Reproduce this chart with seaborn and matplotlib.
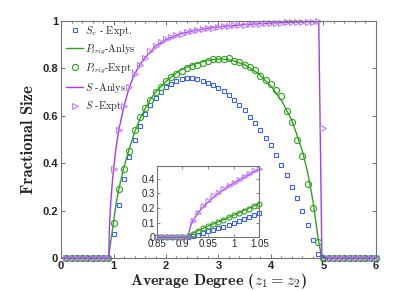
import numpy as np
import matplotlib
matplotlib.use("Agg")
import matplotlib.pyplot as plt
from matplotlib.ticker import MultipleLocator
import seaborn as sns

# experiments, z = 0.1 ... 6.0
z_expt = np.round(np.arange(1, 61) * 0.1, 1)
sv_expt = [0, 0, 0, 0, 0, 0, 0, 0, 0,
           0.10, 0.225, 0.335, 0.428, 0.498, 0.558, 0.606, 0.646, 0.676, 0.702,
           0.723, 0.735, 0.747, 0.754, 0.758, 0.760, 0.754, 0.748, 0.740, 0.729,
           0.716, 0.705, 0.688, 0.665, 0.646, 0.623, 0.596, 0.568, 0.539, 0.508,
           0.477, 0.435, 0.392, 0.349, 0.301, 0.252, 0.197, 0.141, 0.075, 0.016,
           0, 0, 0, 0, 0, 0, 0, 0, 0, 0, 0]
ptrig_expt = [0, 0, 0, 0, 0, 0, 0, 0, 0,
              0.15, 0.292, 0.375, 0.452, 0.540, 0.595, 0.632, 0.668, 0.700, 0.722,
              0.745, 0.762, 0.778, 0.790, 0.800, 0.811, 0.814, 0.824, 0.833, 0.838,
              0.840, 0.840, 0.843, 0.833, 0.828, 0.814, 0.805, 0.793, 0.769, 0.750,
              0.734, 0.709, 0.684, 0.622, 0.575, 0.499, 0.432, 0.311, 0.212, 0.068,
              0, 0, 0, 0, 0, 0, 0, 0, 0, 0, 0]
s_expt = [0, 0, 0, 0, 0, 0, 0, 0, 0,
          0.375, 0.54, 0.64, 0.72, 0.775, 0.815, 0.845, 0.872, 0.893, 0.91,
          0.922, 0.933, 0.94, 0.947, 0.953, 0.958, 0.962, 0.966, 0.969, 0.972,
          0.975, 0.977, 0.979, 0.981, 0.983, 0.985, 0.986, 0.988, 0.989, 0.990,
          0.991, 0.992, 0.993, 0.994, 0.995, 0.995, 0.996, 0.997, 0.997, 0.998,
          0.55, 0, 0, 0, 0, 0, 0, 0, 0, 0, 0]

# analysis curves
z_s = [0, 0.911, 0.915, 0.92, 0.93, 0.94, 0.95, 0.96, 0.97, 0.98, 0.99, 1.0,
       1.01, 1.02, 1.03, 1.04, 1.05, 1.1, 1.2, 1.3, 1.4, 1.5, 1.6, 1.8, 2.0,
       2.25, 2.5, 2.75, 3.0, 3.5, 4.0, 4.5, 4.91, 4.97, 6.0]
s_anlys = [0, 0, 0.07, 0.11, 0.165, 0.205, 0.24, 0.27, 0.30, 0.325, 0.35, 0.37,
           0.39, 0.41, 0.43, 0.45, 0.466, 0.54, 0.64, 0.72, 0.775, 0.815, 0.845, 0.893, 0.922,
           0.944, 0.958, 0.968, 0.975, 0.985, 0.991, 0.995, 0.998, 0, 0]
z_p = [0, 0.905, 0.92, 0.95, 0.98, 1.0, 1.02, 1.05, 1.1, 1.2, 1.3, 1.4, 1.5,
       1.6, 1.7, 1.8, 2.0, 2.25, 2.5, 2.75, 3.0, 3.25, 3.5, 3.75, 4.0, 4.2,
       4.4, 4.6, 4.7, 4.8, 4.9, 4.97, 6.0]
p_anlys = [0, 0, 0.028, 0.075, 0.12, 0.15, 0.183, 0.23, 0.29, 0.385, 0.46, 0.53, 0.585,
           0.63, 0.668, 0.70, 0.745, 0.79, 0.815, 0.832, 0.84, 0.835, 0.815, 0.78, 0.725, 0.665,
           0.58, 0.45, 0.36, 0.24, 0.08, 0, 0]

# inset experiments, z = 0.85 ... 1.05
z_in = np.round(np.arange(85, 106) * 0.01, 2)
sv_in = [0, 0, 0, 0, 0, 0, 0, 0.008, 0.018, 0.028, 0.040, 0.050, 0.060, 0.070,
         0.082, 0.100, 0.110, 0.122, 0.135, 0.150, 0.165]
ptrig_in = [0, 0, 0, 0, 0, 0, 0.005, 0.025, 0.04, 0.06, 0.075, 0.09, 0.105, 0.12,
            0.135, 0.15, 0.165, 0.18, 0.195, 0.213, 0.23]
s_in = [0, 0, 0, 0, 0, 0, 0, 0.11, 0.165, 0.21, 0.245, 0.28, 0.305, 0.33,
        0.35, 0.37, 0.39, 0.41, 0.43, 0.45, 0.468]

x_ticks = [0, 1, 2, 3, 4, 5, 6]
x_ticklabels = ["0", "1", "2", "3", "4", "5", "6"]
y_ticks = [0, 0.2, 0.4, 0.6, 0.8, 1.0]
y_ticklabels = ["0", "0.2", "0.4", "0.6", "0.8", "1"]
in_x_ticks = [0.85, 0.9, 0.95, 1.0, 1.05]
in_x_ticklabels = ["0.85", "0.9", "0.95", "1", "1.05"]
in_y_ticks = [0, 0.1, 0.2, 0.3, 0.4]
in_y_ticklabels = ["0", "0.1", "0.2", "0.3", "0.4"]

blue = "#3d63e6"
green = "#2ea21e"
purple = "#a23cf2"
purple_m = "#c27ef6"

sns.set_style("ticks")
plt.rcParams["mathtext.fontset"] = "cm"
plt.rcParams["font.family"] = ["Liberation Sans", "DejaVu Sans"]

fig = plt.figure(figsize=(4.15, 2.91), dpi=100)
ax = fig.add_axes([0.147, 0.113, 0.759, 0.815])
ax_in = fig.add_axes([0.378, 0.185, 0.247, 0.246])

mk = dict(linestyle="none", markerfacecolor="none", markeredgewidth=0.8, errorbar=None,
          clip_on=False)

sns.lineplot(x=z_expt, y=sv_expt, ax=ax, marker="s", markersize=3.2, color=blue,
             markeredgecolor=blue, label=r"$S_v$ - Expt.", **mk)
sns.lineplot(x=z_p, y=p_anlys, ax=ax, color=green, linewidth=1.0, errorbar=None,
             label=r"$P_{trig}$-Anlys")
sns.lineplot(x=z_expt, y=ptrig_expt, ax=ax, marker="o", markersize=4.4, color=green,
             markeredgecolor=green, label=r"$P_{trig}$-Expt.", **mk)
sns.lineplot(x=z_s, y=s_anlys, ax=ax, color=purple, linewidth=1.0, errorbar=None,
             sort=False, label=r"$S$ -Anlys")
sns.lineplot(x=z_expt, y=s_expt, ax=ax, marker=">", markersize=4.4, color=purple_m,
             markeredgecolor=purple_m, label=r"$S$ -Expt", **mk)

handles, labels = ax.get_legend_handles_labels()
ax.legend(handles, labels, loc="upper left", bbox_to_anchor=(0.0, 1.01), frameon=False,
          prop={"family": "cmr10", "size": 7.5}, labelspacing=0.45, handlelength=1.6,
          handletextpad=0.25, borderaxespad=0.1)

ax.set_xlim(0, 6)
ax.set_ylim(0, 1)
ax.set_xticks(x_ticks)
ax.set_xticklabels(x_ticklabels)
ax.set_yticks(y_ticks)
ax.set_yticklabels(y_ticklabels)
ax.xaxis.set_minor_locator(MultipleLocator(0.2))
ax.tick_params(which="both", direction="in", top=True, right=True, color="0.35",
               width=0.6, labelsize=8, pad=2)
ax.tick_params(which="major", length=3)
ax.tick_params(which="minor", length=1.5)
for lab in ax.get_xticklabels() + ax.get_yticklabels():
    lab.set_fontweight("bold")
for sp in ax.spines.values():
    sp.set_visible(True)
    sp.set_color("0.45")
    sp.set_linewidth(0.8)
ax.set_xlabel(r"Average Degree ($z_1 = z_2$)", family="cmb10", fontsize=11.5, labelpad=0)
ax.set_ylabel("Fractional Size", family="cmb10", fontsize=12, labelpad=5)

# inset
sns.lineplot(x=z_p, y=p_anlys, ax=ax_in, color=green, linewidth=0.9, errorbar=None)
sns.lineplot(x=z_s, y=s_anlys, ax=ax_in, color=purple, linewidth=0.9, errorbar=None, sort=False)
sns.lineplot(x=z_in, y=sv_in, ax=ax_in, marker="s", markersize=2.6, color=blue,
             markeredgecolor=blue, **mk)
sns.lineplot(x=z_in, y=ptrig_in, ax=ax_in, marker="o", markersize=3.6, color=green,
             markeredgecolor=green, **mk)
sns.lineplot(x=z_in, y=s_in, ax=ax_in, marker=">", markersize=3.6, color=purple_m,
             markeredgecolor=purple_m, **mk)
ax_in.set_xlim(0.85, 1.05)
ax_in.set_ylim(0, 0.49)
ax_in.set_xticks(in_x_ticks)
ax_in.set_xticklabels(in_x_ticklabels)
ax_in.set_yticks(in_y_ticks)
ax_in.set_yticklabels(in_y_ticklabels)
ax_in.tick_params(direction="in", top=True, right=True, length=2.5, width=0.5,
                  color="0.35", labelsize=7, pad=1.5)
for sp in ax_in.spines.values():
    sp.set_visible(True)
    sp.set_color("0.45")
    sp.set_linewidth(0.8)
ax_in.set_xlabel("")
ax_in.set_ylabel("")

fig.savefig("out.png", dpi=100)
